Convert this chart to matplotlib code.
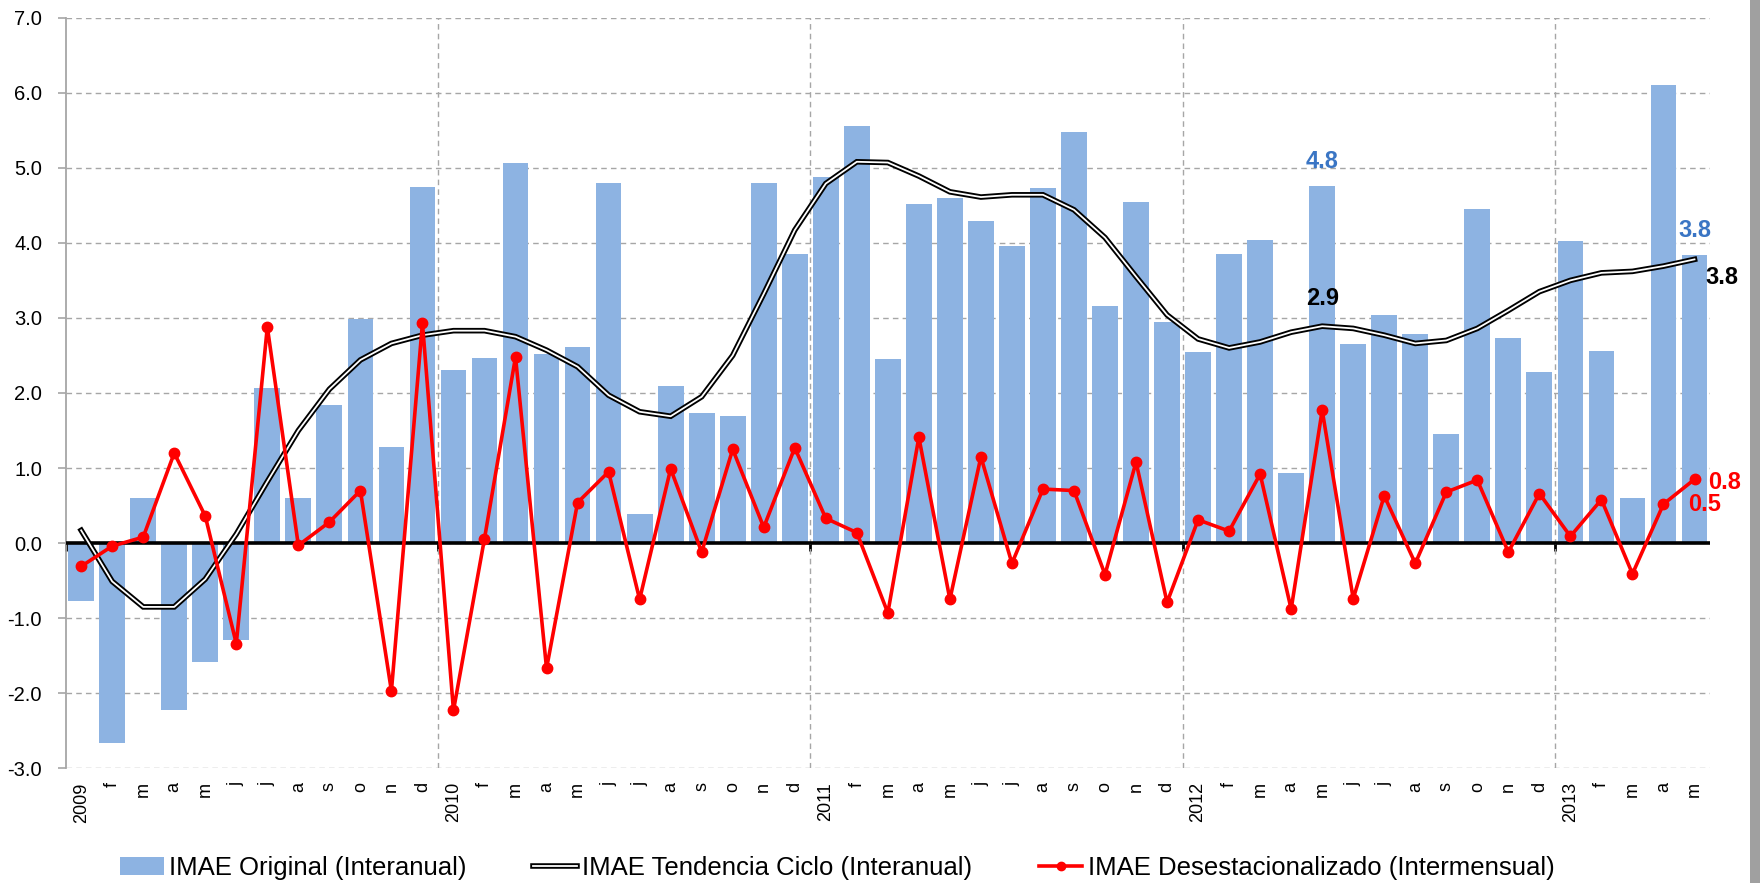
import numpy as np
import matplotlib
matplotlib.use("Agg")
import matplotlib.pyplot as plt
from matplotlib import font_manager
from matplotlib.lines import Line2D
from matplotlib.patches import Patch, Rectangle

# IMAE series, Jan 2009 - May 2013
years = [2009, 2010, 2011, 2012, 2013]
month_letters = ['e', 'f', 'm', 'a', 'm', 'j', 'j', 'a', 's', 'o', 'n', 'd']

original = [-0.77, -2.66, 0.60, -2.23, -1.58, -1.29, 2.06, 0.60, 1.84, 2.98, 1.28, 4.74,
            2.31, 2.47, 5.06, 2.52, 2.61, 4.80, 0.39, 2.09, 1.73, 1.69, 4.80, 3.85,
            4.88, 5.56, 2.45, 4.52, 4.60, 4.29, 3.96, 4.73, 5.48, 3.16, 4.54, 2.95,
            2.55, 3.85, 4.04, 0.94, 4.76, 2.65, 3.04, 2.79, 1.46, 4.45, 2.73, 2.28,
            4.02, 2.56, 0.60, 6.10, 3.84]
tendencia = [0.17, -0.51, -0.85, -0.85, -0.48, 0.12, 0.82, 1.50, 2.05, 2.44, 2.66, 2.77,
             2.83, 2.83, 2.75, 2.57, 2.35, 1.97, 1.75, 1.69, 1.95, 2.50, 3.32, 4.17,
             4.79, 5.08, 5.07, 4.89, 4.68, 4.61, 4.64, 4.64, 4.44, 4.07, 3.55, 3.04,
             2.72, 2.60, 2.68, 2.81, 2.89, 2.86, 2.77, 2.66, 2.70, 2.86, 3.10, 3.35,
             3.50, 3.60, 3.62, 3.69, 3.78]
desest = [-0.31, -0.04, 0.08, 1.20, 0.36, -1.34, 2.88, -0.03, 0.28, 0.70, -1.97, 2.93,
          -2.23, 0.06, 2.48, -1.67, 0.54, 0.95, -0.75, 0.99, -0.12, 1.25, 0.21, 1.27,
          0.33, 0.14, -0.93, 1.41, -0.75, 1.15, -0.27, 0.72, 0.70, -0.42, 1.08, -0.79,
          0.31, 0.16, 0.92, -0.88, 1.77, -0.74, 0.63, -0.27, 0.68, 0.84, -0.12, 0.66,
          0.09, 0.58, -0.41, 0.52, 0.85]

n = len(original)
labels = []
for i in range(n):
    if i % 12 == 0:
        labels.append(str(years[i // 12]))
    else:
        labels.append(month_letters[i % 12])

# fonts: narrow variant if it exists
names = {f.name for f in font_manager.fontManager.ttflist}
narrow = 'Liberation Sans Narrow' in names
cond_font = ['Liberation Sans Narrow', 'DejaVu Sans'] if narrow else ['Liberation Sans', 'DejaVu Sans']
plt.rcParams['font.family'] = ['Liberation Sans', 'DejaVu Sans']

bar_color = '#8DB3E2'
grid_color = '#A6A6A6'
blue_lbl = '#3A75C4'

fig = plt.figure(figsize=(17.6, 8.83), dpi=100)
ax = fig.add_axes([0.0373, 0.1299, 0.9716 - 0.0373, 0.98 - 0.1299])

x = np.arange(n)
ax.bar(x, original, width=0.83, color=bar_color, zorder=2)
ax.axhline(0, color='black', lw=2.6, zorder=3)
ax.plot(x, tendencia, color='black', lw=4.0, zorder=4, solid_joinstyle='miter')
ax.plot(x, tendencia, color='white', lw=1.3, zorder=5)
ax.plot(x, desest, color='#FF0000', lw=2.6, marker='o', markersize=7.5, zorder=6)

ax.set_xlim(-0.5, n - 0.5)
ax.set_ylim(-3, 7)
ax.set_yticks(np.arange(-3, 8, 1))
ax.set_yticklabels([f'{v:.1f}' for v in np.arange(-3, 8, 1)], fontsize=14.5)
ax.tick_params(axis='y', length=6, width=1.2, color=grid_color, pad=11)

ax.set_xticks(x)
ax.set_xticklabels(labels, rotation=90, fontsize=15 if narrow else 13,
                   family=cond_font, va='top', ha='center')
ax.tick_params(axis='x', which='major', length=0, pad=10)
bounds = [12 * k - 0.5 for k in range(1, len(years))]
ax.set_xticks(bounds, minor=True)
ax.tick_params(axis='x', which='minor', length=0)

ax.grid(axis='y', which='major', color=grid_color, ls=(0, (4, 3)), lw=1.0, zorder=0)
ax.grid(axis='x', which='minor', color=grid_color, ls=(0, (4, 3)), lw=1.0, zorder=0)
ax.set_axisbelow(True)

for s in ['top', 'right', 'bottom']:
    ax.spines[s].set_visible(False)
ax.spines['left'].set_color(grid_color)
ax.spines['left'].set_linewidth(1.3)

# year tick marks on the zero line
zpos = (0 - ax.get_ylim()[0]) / (ax.get_ylim()[1] - ax.get_ylim()[0])
sec = ax.secondary_xaxis(zpos)
sec.set_xticks([-0.5] + bounds)
sec.set_xticklabels([])
sec.tick_params(axis='x', length=6, width=2, color='black', direction='out')
sec.spines['bottom'].set_visible(False)
sec.spines['top'].set_visible(False)

# data labels
may12 = 40
last = n - 1
ax.text(may12, original[may12] + 0.32, f'{original[may12]:.1f}', color=blue_lbl,
        fontsize=17, fontweight='bold', ha='center', va='center')
ax.text(last, original[last] + 0.32, f'{original[last]:.1f}', color=blue_lbl,
        fontsize=17, fontweight='bold', ha='center', va='center')
ax.text(may12, tendencia[may12] + 0.37, f'{tendencia[may12]:.1f}', color='black',
        fontsize=17, fontweight='bold', ha='center', va='center')
ax.text(last + 0.35, tendencia[last] - 0.24, f'{tendencia[last]:.1f}', color='black',
        fontsize=17, fontweight='bold', ha='left', va='center')
ax.text(last + 0.45, desest[last] - 0.04, f'{desest[last]:.1f}', color='#FF0000',
        fontsize=17, fontweight='bold', ha='left', va='center')
ax.text(last - 0.2, desest[last - 1] - 0.01, f'{desest[last - 1]:.1f}', color='#FF0000',
        fontsize=17, fontweight='bold', ha='left', va='center')

# legend
h_bar = Patch(facecolor=bar_color, edgecolor='none')
h_tr = (Line2D([], [], color='black', lw=4.0), Line2D([], [], color='white', lw=1.3))
h_red = Line2D([], [], color='#FF0000', lw=2.6, marker='o', markersize=6)
fig.legend([h_bar, h_tr, h_red],
           ['IMAE Original (Interanual)', 'IMAE Tendencia Ciclo (Interanual)',
            'IMAE Desestacionalizado (Intermensual)'],
           loc='center', bbox_to_anchor=(0.4756, 0.017), ncol=3, frameon=False,
           prop={'family': cond_font, 'size': 22 if narrow else 18.5},
           handlelength=1.7, handletextpad=0.2, columnspacing=2.6, borderpad=0.1)

# grey frame shadow at the right edge
fig.patches.append(Rectangle((1750 / 1760, 0), 10 / 1760, 1, transform=fig.transFigure,
                             facecolor='#A0A0A0', edgecolor='none'))

fig.savefig('out.png', dpi=100)
